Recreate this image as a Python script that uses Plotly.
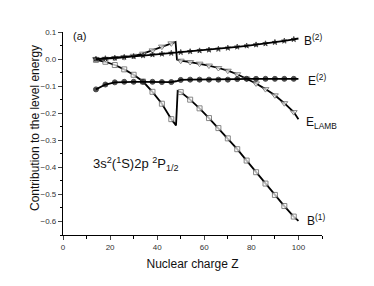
import plotly.graph_objects as go

# ---- data ----
z_b1 = [14, 18, 22, 26, 30, 34, 38, 42, 46, 48, 48.7, 50, 54, 58, 62, 66, 70, 74, 78, 82, 86, 90, 94, 98, 100]
b1 = [-0.003, -0.010, -0.022, -0.038, -0.058, -0.083, -0.121, -0.165, -0.222, -0.245, -0.118, -0.122,
      -0.150, -0.182, -0.218, -0.255, -0.293, -0.333, -0.375, -0.418, -0.460, -0.502, -0.543, -0.582, -0.598]
b1_mark = [1, 1, 1, 1, 1, 1, 1, 1, 1, 0, 0, 1, 1, 1, 1, 1, 1, 1, 1, 1, 1, 1, 1, 1, 0]

z_el = [14, 18, 22, 26, 30, 34, 38, 42, 46, 47.8, 48.4, 50, 54, 58, 62, 66, 70, 74, 78, 82, 86, 90, 94, 98, 100]
elamb = [0.000, 0.001, 0.004, 0.007, 0.012, 0.020, 0.032, 0.046, 0.058, 0.063, -0.002, -0.006,
         -0.011, -0.017, -0.024, -0.033, -0.043, -0.056, -0.072, -0.090, -0.111, -0.134, -0.163, -0.196, -0.222]
el_mark = [1, 1, 1, 1, 1, 1, 1, 1, 1, 0, 0, 1, 1, 1, 1, 1, 1, 1, 1, 1, 1, 1, 1, 1, 0]

z_e2 = [14, 18, 22, 26, 30, 34, 38, 42, 46, 48, 50, 54, 58, 62, 66, 70, 74, 78, 82, 86, 90, 94, 98, 100]
e2 = [-0.112, -0.094, -0.086, -0.084, -0.084, -0.084, -0.084, -0.085, -0.085, -0.082, -0.077, -0.076,
      -0.076, -0.076, -0.076, -0.076, -0.074, -0.073, -0.073, -0.073, -0.073, -0.073, -0.073, -0.073]
e2_mark = [1, 1, 1, 1, 1, 1, 1, 1, 1, 0, 1, 1, 1, 1, 1, 1, 1, 1, 1, 1, 1, 1, 1, 0]

z_b2 = [14, 18, 22, 26, 30, 34, 38, 42, 46, 50, 54, 58, 62, 66, 70, 74, 78, 82, 86, 90, 94, 98, 100]
b2 = [0.000, 0.002, 0.004, 0.007, 0.010, 0.013, 0.016, 0.019, 0.022, 0.025, 0.028, 0.031, 0.034,
      0.037, 0.041, 0.045, 0.049, 0.053, 0.057, 0.062, 0.067, 0.073, 0.076]
b2_mark = [1] * 22 + [0]

x_ticks = [0, 20, 40, 60, 80, 100]
y_ticks = [0.1, 0.0, -0.1, -0.2, -0.3, -0.4, -0.5, -0.6]

FONT = "Liberation Sans, Arial, sans-serif"
W, H = 374, 286
PL, PR, PT, PB = 63, 322, 32, 235

fig = go.Figure()

def add(z, y, mark, symbol, size, fill, edge):
    fig.add_trace(go.Scatter(
        x=z, y=y, mode="lines+markers",
        line=dict(color="black", width=1.8),
        marker=dict(symbol=symbol, size=[size * m for m in mark], color=fill,
                    line=dict(color=edge, width=1)),
        showlegend=False, hoverinfo="skip"))

add(z_b1, b1, b1_mark, "square", 5, "white", "#555")
add(z_el, elamb, el_mark, "triangle-down", 6, "white", "#555")
add(z_e2, e2, e2_mark, "circle", 5, "black", "black")
add(z_b2, b2, b2_mark, "star", 4, "black", "black")

ann = [
    (303, 40, "B<sup>(2)</sup>", 12),
    (307, 80, "E<sup>(2)</sup>", 12),
    (305, 123, "E<sub>LAMB</sub>", 12),
    (306, 220, "B<sup>(1)</sup>", 12),
    (72, 36, "(a)", 11),
    (92, 164, "3s<sup>2</sup>(<sup>1</sup>S)2p <sup>2</sup>P<sub>1/2</sub>", 13),
]
for px, py, t, fs in ann:
    fig.add_annotation(x=(px - PL) / (PR - PL), y=(PB - py) / (PB - PT), xref="paper", yref="paper",
                       text=t, showarrow=False, xanchor="left", yanchor="middle", borderpad=0,
                       font=dict(family=FONT, size=fs, color="#111"))

# y axis title placed as rotated text
fig.add_annotation(x=(35 - PL) / (PR - PL), y=(PB - 128) / (PB - PT), xref="paper", yref="paper",
                   text="Contribution to the level energy", textangle=-90, showarrow=False,
                   xanchor="center", yanchor="middle", borderpad=0,
                   font=dict(family=FONT, size=12, color="#111"))

fig.update_layout(
    width=W, height=H,
    margin=dict(l=PL, r=W - PR, t=PT, b=H - PB, autoexpand=False),
    plot_bgcolor="white", paper_bgcolor="white",
    font=dict(family=FONT, color="#222"),
)

fig.update_xaxes(
    range=[0, 110], tickvals=x_ticks, ticks="outside", ticklen=4, tickwidth=1,
    showline=True, linecolor="black", linewidth=1.3, showgrid=False, zeroline=False,
    tickfont=dict(size=8, family=FONT, color="#333"),
    minor=dict(tickvals=[10, 30, 50, 70, 90, 110], ticks="outside", ticklen=3, tickcolor="black"),
    title=dict(text="Nuclear charge Z", font=dict(size=12, family=FONT, color="#111"), standoff=8),
)
fig.update_yaxes(
    range=[-0.65, 0.1], tickvals=y_ticks, tickformat=".1f", ticks="outside", ticklen=4, tickwidth=1,
    showline=True, linecolor="black", linewidth=1.3, showgrid=False, zeroline=False,
    tickfont=dict(size=8, family=FONT, color="#333"),
    minor=dict(dtick=0.05, ticks="outside", ticklen=2, tickcolor="black"),
)

fig.write_html("out.html", config={"displayModeBar": False},
               post_script="document.body.style.margin='0';")
